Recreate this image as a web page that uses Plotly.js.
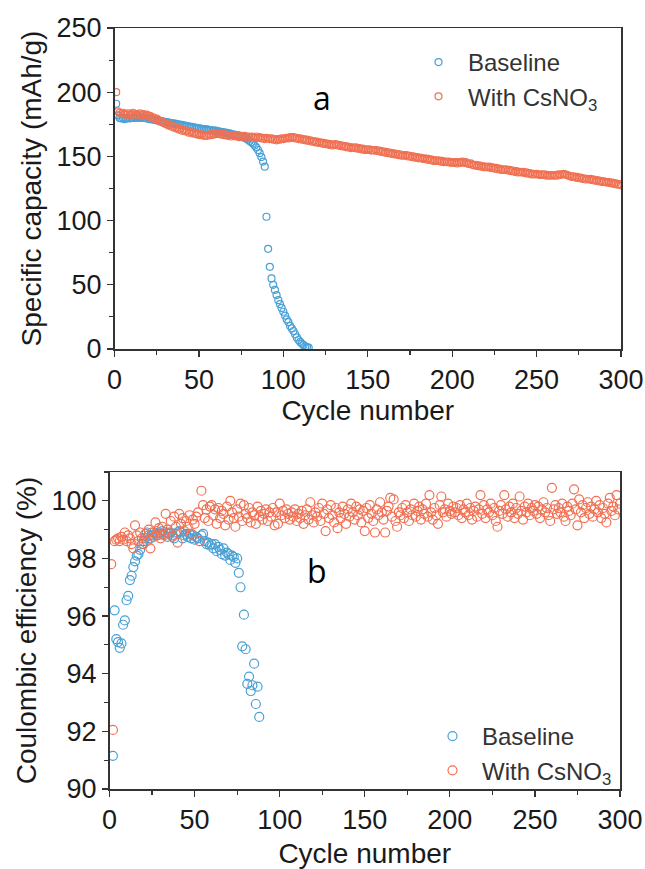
<!DOCTYPE html>
<html>
<head>
<meta charset="utf-8">
<script src="https://cdn.plot.ly/plotly-3.0.1.min.js"></script>
<style>
html,body{margin:0;padding:0;background:#fff;}
#chart{width:645px;height:869px;}
</style>
</head>
<body>
<div id="chart"></div>
<script>
// ---------- Data ----------
// (a) Specific capacity (mAh/g) vs cycle number, one value per cycle starting at cycle 1
const capBaseline = [
191, 182, 180, 179.5, 180, 179, 179.5, 180, 179.5, 180,
180, 180.5, 180, 180.5, 180, 180.5, 180, 180, 179.5, 179.5,
179, 179, 178.5, 178.5, 178, 178, 177.5, 177.5, 177, 177,
176.5, 176.5, 176, 176, 175.5, 175.5, 175, 175, 174.5, 174.5,
174, 174, 173.5, 173.5, 173, 173, 172.5, 172.5, 172, 172,
171.5, 171.5, 171, 171, 171, 170.5, 170.5, 170, 170, 170,
169.5, 169.5, 169, 169, 168.5, 168.5, 168, 168, 167.5, 167,
167, 166.5, 166, 166, 165.5, 165, 164.5, 164, 163, 162,
161, 160, 158.5, 157, 155, 152.5, 149.5, 146, 142, 103,
78, 64, 55, 50, 46, 42, 38, 35, 32, 29,
26, 23, 21, 18, 16, 14, 11.5, 9, 7, 5.5,
4, 3, 2, 1.5, 1
];
const capCsNO3 = [
200, 185, 184, 183, 184, 183, 182.5, 183.5, 182, 183,
184, 182.5, 183, 182, 183.5, 182, 183, 181.5, 182.5, 181,
181.5, 180, 180.5, 179, 179.5, 178, 177, 177.5, 176, 175.5,
175, 174, 174.5, 173, 173.5, 172, 172.5, 171, 171.5, 170,
170.5, 169.5, 170, 168.5, 169, 168, 168.5, 167.5, 167, 167.5,
166.5, 167, 166, 166.5, 166, 167, 166.5, 167.5, 167, 168,
167.5, 168, 167, 167.5, 166.5, 167, 166, 166.5, 165.5, 166.5,
166, 165.5, 166.5, 165, 166, 165.5, 166, 165, 165.5, 164.5,
165.5, 165, 164.5, 165.5, 164.5, 165, 164, 164.5, 163.5, 164.5,
164, 163.5, 164, 163, 163.5, 162.5, 163.5, 163, 164, 163.5,
164, 164.5, 164, 165, 164.5, 165, 164, 164.5, 163.5, 164,
163, 163.5, 162.5, 163, 162, 162.5, 161.5, 162, 161, 161.5,
160.5, 161, 160, 160.5, 159.5, 160, 159, 159.5, 158.5, 159,
159.5, 158.5, 159, 158, 158.5, 157.5, 158, 157, 157.5, 156.5,
157, 156.5, 157, 156, 156.5, 155.5, 156, 155, 155.5, 155,
155.5, 154.5, 155, 154.5, 155, 154, 154.5, 153.5, 154, 153,
153.5, 152.5, 153, 152, 152.5, 151.5, 152, 151, 151.5, 150.5,
151, 150.5, 151, 150, 150.5, 149.5, 150, 149, 149.5, 148.5,
149, 148.5, 148, 148.5, 147.5, 148, 147, 147.5, 146.5, 147,
146.5, 147, 146, 146.5, 145.5, 146, 145.5, 146, 145, 145.5,
145, 145.5, 144.5, 145.5, 145, 146, 145, 145.5, 144.5, 144,
144.5, 143.5, 143, 143.5, 142.5, 143, 142, 142.5, 141.5, 142,
141.5, 142, 141, 141.5, 140.5, 141, 140, 140.5, 139.5, 140,
139.5, 140, 139, 139.5, 138.5, 139, 138, 138.5, 137.5, 138,
137.5, 138, 137, 137.5, 136.5, 137, 136, 136.5, 136, 136.5,
136, 135.5, 136, 135.5, 136, 135, 135.5, 135, 135.5, 135,
135.5, 135, 136, 135.5, 136, 136.5, 136, 135.5, 135, 134.5,
134, 134.5, 133.5, 134, 133, 133.5, 132.5, 133, 132, 132.5,
132, 132.5, 131.5, 132, 131, 131.5, 130.5, 131, 130, 130.5,
130, 129.5, 130, 129, 129.5, 128.5, 129, 128, 128.5, 127.5
];

// (b) Coulombic efficiency (%) vs cycle number
const ceBaselineStart = 2;   // first plotted baseline cycle
const ceBaseline = [
91.15, 96.2, 95.2, 95.1, 94.9, 95.05, 95.7, 95.85, 96.55, 96.7,
97.25, 97.4, 97.7, 97.9, 98.1, 98.15, 98.3, 98.5, 98.6, 98.7,
98.9, 98.8, 98.7, 98.8, 98.9, 98.85, 98.8, 98.9, 98.85, 98.95,
98.8, 98.9, 98.75, 98.85, 98.9, 98.8, 98.7, 98.85, 98.9, 98.95,
98.9, 98.7, 98.8, 98.85, 98.75, 98.85, 98.7, 98.8, 98.65, 98.75,
98.7, 98.6, 98.8, 98.85, 98.6, 98.5, 98.55, 98.45, 98.5, 98.35,
98.5, 98.25, 98.4, 98.3, 98.15, 98.35, 98.1, 98.2, 98.15, 97.95,
98.1, 98.05, 97.85, 98.0, 97.5, 97.0, 94.95, 96.05, 94.85, 93.65,
93.9, 93.4, 93.6, 94.35, 92.95, 93.55, 92.5
];
const ceCsNO3Start = 1;
const ceCsNO3 = [
97.8, 92.05, 98.6, 98.65, 98.7, 98.6, 98.75, 98.65, 98.9, 98.6,
98.8, 98.7, 98.5, 98.35, 99.15, 98.8, 98.6, 98.9, 98.7, 98.5,
98.85, 98.6, 99.0, 98.35, 98.9, 98.75, 99.25, 98.8, 99.05, 98.7,
99.1, 98.85, 99.55, 99.0, 98.9, 99.3, 98.75, 99.45, 99.1, 98.55,
99.55, 99.2, 99.4, 98.95, 99.3, 99.1, 99.5, 98.85, 99.35, 99.2,
99.45, 99.6, 98.6, 100.35, 99.85, 99.4, 99.7, 99.3, 99.8, 99.85,
99.5, 99.7, 99.2, 99.75, 99.4, 99.65, 99.55, 99.15, 99.8, 99.35,
100.0, 99.6, 99.4, 99.1, 99.7, 99.45, 99.9, 99.3, 99.85, 99.55,
99.4, 99.75, 99.25, 99.6, 99.5, 99.2, 99.8, 99.45, 99.65, 99.35,
99.55, 99.7, 99.3, 99.6, 99.45, 99.75, 99.15, 99.6, 99.2, 99.9,
99.5, 99.65, 99.4, 99.7, 99.55, 99.35, 99.6, 99.45, 99.7, 99.3,
99.55, 99.4, 99.65, 99.2, 99.5, 99.7, 99.35, 99.95, 99.5, 99.25,
99.6, 99.45, 99.75, 99.3, 99.9, 99.55, 98.95, 99.7, 99.4, 99.85,
99.5, 99.25, 99.75, 99.05, 99.6, 99.4, 99.8, 99.55, 99.2, 99.7,
99.45, 99.9, 99.6, 99.35, 99.8, 99.5, 99.7, 99.25, 99.65, 98.95,
99.75, 99.4, 99.85, 99.55, 99.3, 98.9, 99.7, 99.5, 99.95, 99.6,
99.35, 98.9, 99.65, 99.8, 100.1, 99.45, 100.05, 99.3, 99.1, 99.6,
99.5, 99.75, 99.4, 99.85, 99.6, 99.3, 99.7, 99.5, 99.9, 99.45,
99.65, 99.8, 99.35, 99.7, 99.55, 99.9, 99.45, 100.2, 99.6, 99.35,
99.75, 99.5, 99.2, 99.85, 100.15, 99.6, 99.7, 99.45, 99.9, 99.65,
99.55, 99.8, 99.6, 99.75, 99.5, 99.85, 99.4, 99.7, 99.6, 99.9,
99.5, 99.75, 99.35, 99.65, 99.8, 99.45, 99.7, 100.2, 99.55, 99.85,
99.4, 99.7, 99.6, 99.9, 99.5, 99.75, 99.3, 99.1, 99.65, 99.85,
99.55, 100.2, 99.7, 99.45, 99.8, 99.6, 99.9, 99.4, 99.75, 99.55,
100.15, 99.65, 99.35, 99.8, 99.6, 99.9, 99.5, 99.75, 99.65, 99.85,
99.55, 99.8, 99.4, 99.7, 99.95, 99.6, 99.75, 99.5, 99.3, 100.45,
99.7, 99.85, 99.55, 99.75, 99.6, 99.9, 99.45, 99.3, 99.8, 99.65,
99.5, 99.9, 100.4, 99.7, 99.15, 100.05, 99.6, 99.85, 99.4, 99.75,
99.95, 99.55, 99.8, 99.45, 99.7, 100.0, 99.6, 99.85, 99.4, 99.75,
99.55, 99.25, 99.9, 100.1, 99.65, 99.8, 99.5, 100.2, 99.7, 99.9
];

const seriesNames = ['Baseline', 'With CsNO<sub>3</sub>'];
const xTickVals = [0, 50, 100, 150, 200, 250, 300];
const capTickVals = [0, 50, 100, 150, 200, 250];
const ceTickVals = [90, 92, 94, 96, 98, 100];

// ---------- Styling ----------
const BLUE = 'rgb(72,160,214)';
const ORANGE = 'rgb(240,112,82)';
const FONT = 'Liberation Sans, Arial, sans-serif';
const AXCOL = '#333';
const TXT = '#1a1a1a';

function cyclesFor(arr, start) { return arr.map((_, i) => i + start); }

const traces = [
  {x: cyclesFor(capBaseline, 1), y: capBaseline, name: seriesNames[0], type: 'scatter', mode: 'markers',
   xaxis: 'x', yaxis: 'y', legend: 'legend',
   marker: {symbol: 'circle-open', size: 7, color: BLUE, line: {width: 1.2, color: BLUE}}},
  {x: cyclesFor(capCsNO3, 1), y: capCsNO3, name: seriesNames[1], type: 'scatter', mode: 'markers',
   xaxis: 'x', yaxis: 'y', legend: 'legend',
   marker: {symbol: 'circle-open', size: 7, color: ORANGE, line: {width: 1.2, color: ORANGE}}},
  {x: cyclesFor(ceBaseline, ceBaselineStart), y: ceBaseline, name: seriesNames[0], type: 'scatter', mode: 'markers',
   xaxis: 'x2', yaxis: 'y2', legend: 'legend2',
   marker: {symbol: 'circle-open', size: 9, color: BLUE, line: {width: 1.2, color: BLUE}}},
  {x: cyclesFor(ceCsNO3, ceCsNO3Start), y: ceCsNO3, name: seriesNames[1], type: 'scatter', mode: 'markers',
   xaxis: 'x2', yaxis: 'y2', legend: 'legend2',
   marker: {symbol: 'circle-open', size: 9, color: ORANGE, line: {width: 1.2, color: ORANGE}}}
];

const W = 645, H = 869;
function minorTicks(dtick, tick0) {
  return {ticks: 'outside', ticklen: 4, tickwidth: 1.1, tickcolor: AXCOL, dtick: dtick, tick0: tick0};
}
function axisCommon() {
  return {
    showgrid: false, zeroline: false, showline: true, mirror: true,
    linecolor: AXCOL, linewidth: 1.5,
    ticks: 'outside', ticklen: 6, tickwidth: 1.3, tickcolor: AXCOL,
    tickfont: {family: FONT, size: 27, color: TXT},
    automargin: false, fixedrange: true
  };
}
const titleFont = {family: FONT, size: 28, color: TXT};

const layout = {
  width: W, height: H,
  margin: {l: 0, r: 0, t: 0, b: 0},
  paper_bgcolor: '#fff', plot_bgcolor: '#fff',
  font: {family: FONT, color: TXT},
  showlegend: true,
  xaxis: Object.assign(axisCommon(), {
    domain: [114.5 / W, 621 / W], range: [0, 300], anchor: 'y',
    tickvals: xTickVals, minor: minorTicks(25, 0),
    title: {text: 'Cycle number', font: titleFont, standoff: 4}
  }),
  yaxis: Object.assign(axisCommon(), {
    domain: [1 - 349 / H, 1 - 28 / H], range: [0, 250], anchor: 'x',
    tickvals: capTickVals, minor: minorTicks(25, 0),
    title: {text: 'Specific capacity (mAh/g)', font: titleFont, standoff: 6}
  }),
  xaxis2: Object.assign(axisCommon(), {
    domain: [109.5 / W, 620 / W], range: [0, 300], anchor: 'y2',
    tickvals: xTickVals, minor: minorTicks(25, 0),
    title: {text: 'Cycle number', font: titleFont, standoff: 10}
  }),
  yaxis2: Object.assign(axisCommon(), {
    domain: [1 - 789 / H, 1 - 472 / H], range: [90, 101], anchor: 'x2',
    tickvals: ceTickVals, minor: minorTicks(1, 90),
    title: {text: 'Coulombic efficiency (%)', font: titleFont, standoff: 6}
  }),
  legend: {
    x: 409 / W, y: 1 - 40 / H, xanchor: 'left', yanchor: 'top',
    bgcolor: 'rgba(0,0,0,0)', borderwidth: 0, itemwidth: 49,
    font: {family: FONT, size: 24, color: '#333'}, tracegroupgap: 0
  },
  legend2: {
    x: 423 / W, y: 1 - 714 / H, xanchor: 'left', yanchor: 'top',
    bgcolor: 'rgba(0,0,0,0)', borderwidth: 0, itemwidth: 49,
    font: {family: FONT, size: 24, color: '#333'}, tracegroupgap: 0
  },
  annotations: [
    {text: 'a', xref: 'paper', yref: 'paper', x: 322 / W, y: 1 - 97 / H, xanchor: 'center', yanchor: 'middle',
     showarrow: false, font: {family: 'Open Sans, Noto Sans, sans-serif', size: 32, color: '#000'}},
    {text: 'b', xref: 'paper', yref: 'paper', x: 317 / W, y: 1 - 570 / H, xanchor: 'center', yanchor: 'middle',
     showarrow: false, font: {family: 'Open Sans, Noto Sans, sans-serif', size: 32, color: '#000'}}
  ]
};

Plotly.newPlot('chart', traces, layout, {staticPlot: true, displayModeBar: false});
</script>
</body>
</html>
